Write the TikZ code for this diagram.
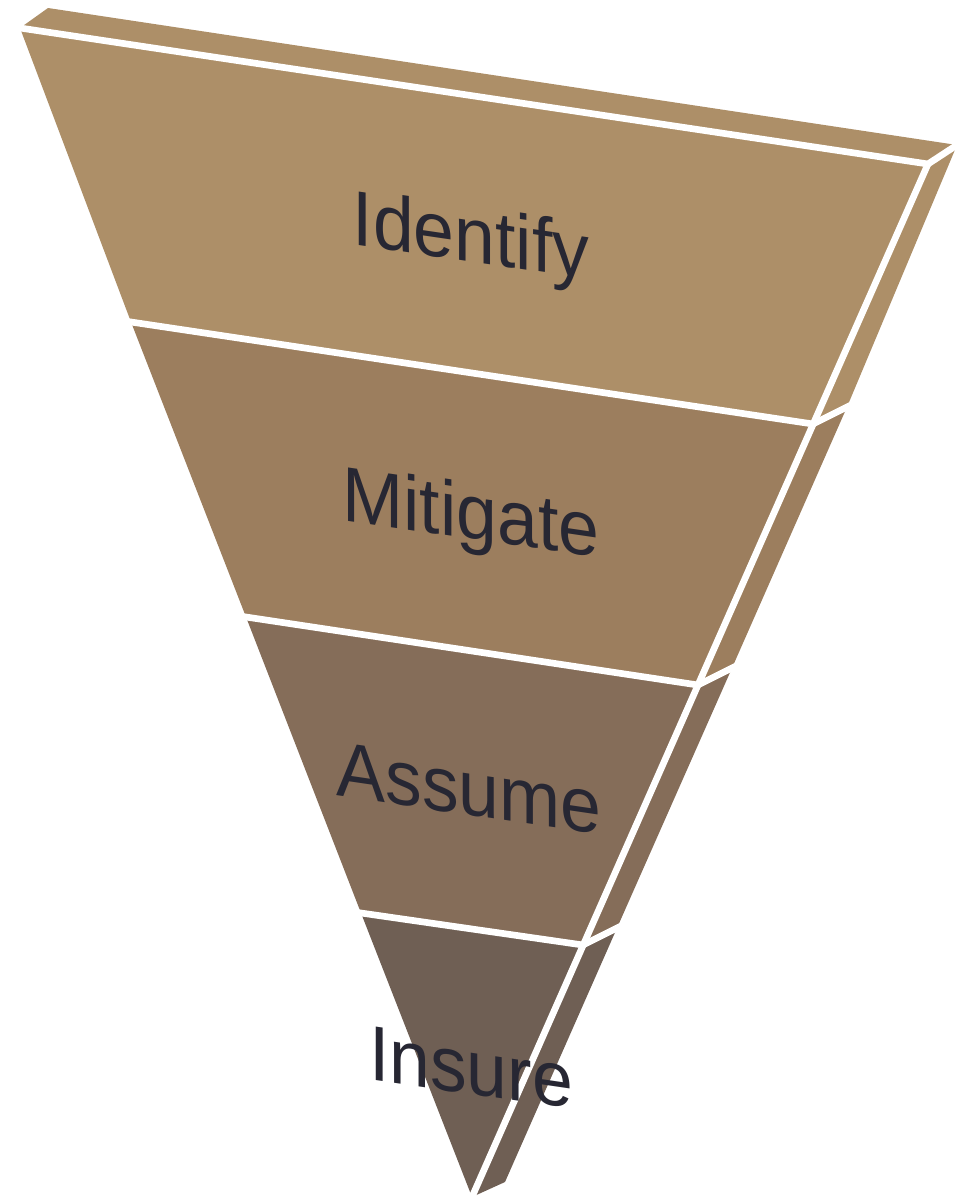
\documentclass[tikz,border=0pt]{standalone}
\usepackage{fontspec}
\setmainfont{Liberation Sans}
\usetikzlibrary{calc}
\definecolor{bandA}{HTML}{AD8F68}
\definecolor{bandB}{HTML}{9C7E5E}
\definecolor{bandC}{HTML}{856D59}
\definecolor{bandD}{HTML}{6F5F54}
\definecolor{txt}{HTML}{272733}
\tikzset{
  gap/.style={draw=white, line width=5pt, line cap=butt, line join=miter},
  lbl/.style={font=\fontsize{55}{60}\selectfont, text=txt, inner sep=0pt, anchor=base, transform shape}
}
\begin{document}
\begin{tikzpicture}[x=0.75pt,y=-0.75pt]
\useasboundingbox (0,0) rectangle (961,1200);
% front face points
\coordinate (A)  at (20,28);
\coordinate (L1) at (131,322);
\coordinate (L2) at (246,617);
\coordinate (L3) at (361,913);
\coordinate (T)  at (472,1197);
\coordinate (R0) at (928,164);
\coordinate (R1) at (813,424);
\coordinate (R2) at (698,685);
\coordinate (R3) at (583,945);
% back points
\coordinate (Ka) at (48,8);
\coordinate (K0) at (957,145);
\coordinate (K1) at (847,407);
\coordinate (K2) at (732,668);
\coordinate (K3) at (617,928);
\coordinate (Kt) at (505,1182);
% top face
\fill[bandA] (A) -- (Ka) -- (K0) -- (R0) -- cycle;
% front faces
\fill[bandA] (A) -- (R0) -- (R1) -- (L1) -- cycle;
\fill[bandB] (L1) -- (R1) -- (R2) -- (L2) -- cycle;
\fill[bandC] (L2) -- (R2) -- (R3) -- (L3) -- cycle;
\fill[bandD] (L3) -- (R3) -- (T) -- cycle;
% side faces
\fill[bandA] (R0) -- (K0) -- (K1) -- (R1) -- cycle;
\fill[bandB] (R1) -- (K1) -- (K2) -- (R2) -- cycle;
\fill[bandC] (R2) -- (K2) -- (K3) -- (R3) -- cycle;
\fill[bandD] (R3) -- (K3) -- (Kt) -- (T) -- cycle;
% white gaps
\draw[gap] ($(A)!-0.02!(R0)$) -- (R0) -- ($(R0)!1.5!(K0)$);
\draw[gap] ($(L1)!-0.02!(R1)$) -- (R1) -- ($(R1)!1.5!(K1)$);
\draw[gap] ($(L2)!-0.02!(R2)$) -- (R2) -- ($(R2)!1.5!(K2)$);
\draw[gap] ($(L3)!-0.03!(R3)$) -- (R3) -- ($(R3)!1.5!(K3)$);
\draw[gap] (R0) -- ($(R0)!1.01!(T)$);
% labels
\begin{scope}[shift={(471,262)}, yslant=-0.147, yscale=1.06]
\node[lbl] (identify) at (0,0) {Identify};
\end{scope}
\begin{scope}[shift={(471,539)}, yslant=-0.147, yscale=1.06]
\node[lbl] (mitigate) at (0,0) {Mitigate};
\end{scope}
\begin{scope}[shift={(469,815)}, yslant=-0.147, yscale=1.06]
\node[lbl] (assume) at (0,0) {Assume};
\end{scope}
\begin{scope}[shift={(471,1094)}, yslant=-0.147, yscale=1.06]
\node[lbl] (insure) at (0,0) {Insure};
\end{scope}
\end{tikzpicture}
\end{document}
